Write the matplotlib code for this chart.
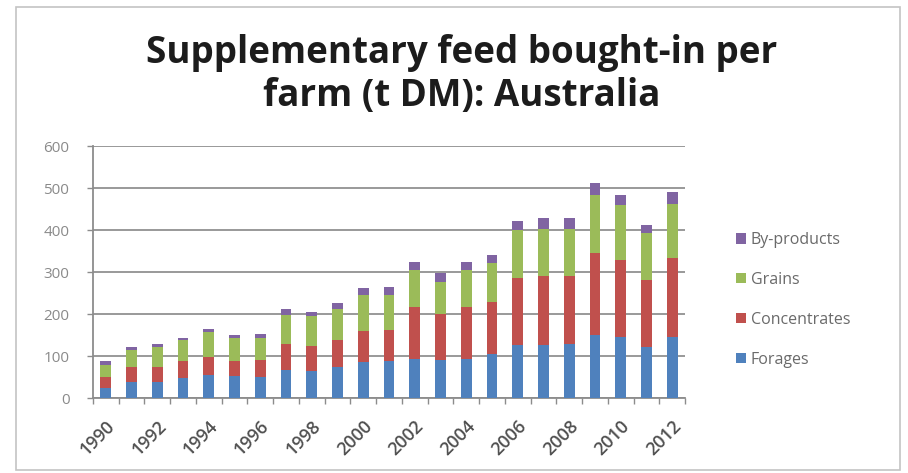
import matplotlib
matplotlib.use("Agg")
import matplotlib.pyplot as plt
from matplotlib.patches import Rectangle
import numpy as np

years = list(range(1990, 2013))
forages      = [25, 39, 38, 47, 55, 52, 51, 67, 65, 75, 86, 88, 92, 90, 92, 105, 126, 126, 128, 150, 146, 122, 146]
concentrates = [26, 34, 37, 42, 42, 37, 39, 62, 60, 63, 74, 74, 125, 110, 125, 124, 159, 164, 162, 196, 183, 159, 187]
grains       = [28, 41, 46, 49, 59, 53, 52, 69, 70, 75, 85, 83, 88, 77, 88, 92, 115, 112, 112, 137, 131, 111, 130]
byproducts   = [8, 7, 7, 6, 8, 8, 10, 13, 10, 14, 16, 20, 18, 20, 18, 19, 22, 26, 26, 30, 23, 20, 28]

series = [
    ("Forages", forages, "#4F81BD"),
    ("Concentrates", concentrates, "#C0504D"),
    ("Grains", grains, "#9BBB59"),
    ("By-products", byproducts, "#8064A2"),
]

fig = plt.figure(figsize=(9.08, 4.73), dpi=100)
fig.patch.set_facecolor("white")
fig.patches.append(Rectangle((16 / 908, 3 / 473), 884 / 908, 463 / 473, transform=fig.transFigure,
                             fill=False, edgecolor="#c4c4c4", linewidth=1.2))

ax = fig.add_axes([93 / 908, (473 - 398) / 473, (685 - 93) / 908, (398 - 146) / 473])

x = np.arange(len(years))
bottom = np.zeros(len(years))
handles = []
for name, vals, col in series:
    h = ax.bar(x, vals, width=0.42, bottom=bottom, color=col, label=name, zorder=3)
    handles.append(h)
    bottom += np.array(vals)

ax.set_xlim(-0.5, len(years) - 0.5)
ax.set_ylim(0, 600)
ax.set_yticks(range(0, 601, 100))
ax.grid(axis="y", color="#999999", linewidth=1.4, zorder=0)
ax.set_axisbelow(True)

for s in ["top", "right"]:
    ax.spines[s].set_visible(False)
ax.spines["left"].set_color("#8c8c8c")
ax.spines["left"].set_linewidth(1.3)
ax.spines["bottom"].set_color("#8c8c8c")
ax.spines["bottom"].set_linewidth(1.3)

ax.tick_params(axis="y", colors="#8c8c8c", labelcolor="#8a8a8a", labelsize=11, length=4, width=1, pad=13)
for t in ax.get_yticklabels():
    t.set_family("Open Sans")
ax.set_xticks(x[::2])
ax.set_xticklabels([str(y) for y in years[::2]], rotation=45, ha="right", rotation_mode="anchor",
                   family="Open Sans", fontweight="semibold")
ax.set_xticks(np.arange(-0.5, len(years), 1), minor=True)
ax.tick_params(axis="x", which="major", length=0, labelsize=13, labelcolor="#505050", pad=14)
ax.tick_params(axis="x", which="minor", length=4, color="#8c8c8c", width=1)

title_kw = dict(ha="center", va="baseline", fontsize=26.5, fontweight="bold",
                color="#1c1c1c", family="Open Sans")
fig.text(462 / 908, 1 - 63 / 473, "Supplementary feed bought-in per", **title_kw)
fig.text(462 / 908, 1 - 106 / 473, "farm (t DM): Australia", **title_kw)

leg = fig.legend(handles[::-1], [s[0] for s in series[::-1]], loc="center left",
                 bbox_to_anchor=(722 / 908, 1 - 300 / 473), frameon=False,
                 prop={"family": "Open Sans", "size": 11.5}, labelspacing=1.5,
                 handlelength=0.6, handleheight=0.6, handletextpad=0.3)
for t in leg.get_texts():
    t.set_color("#6a6a6a")

fig.savefig("out.png", dpi=100)
